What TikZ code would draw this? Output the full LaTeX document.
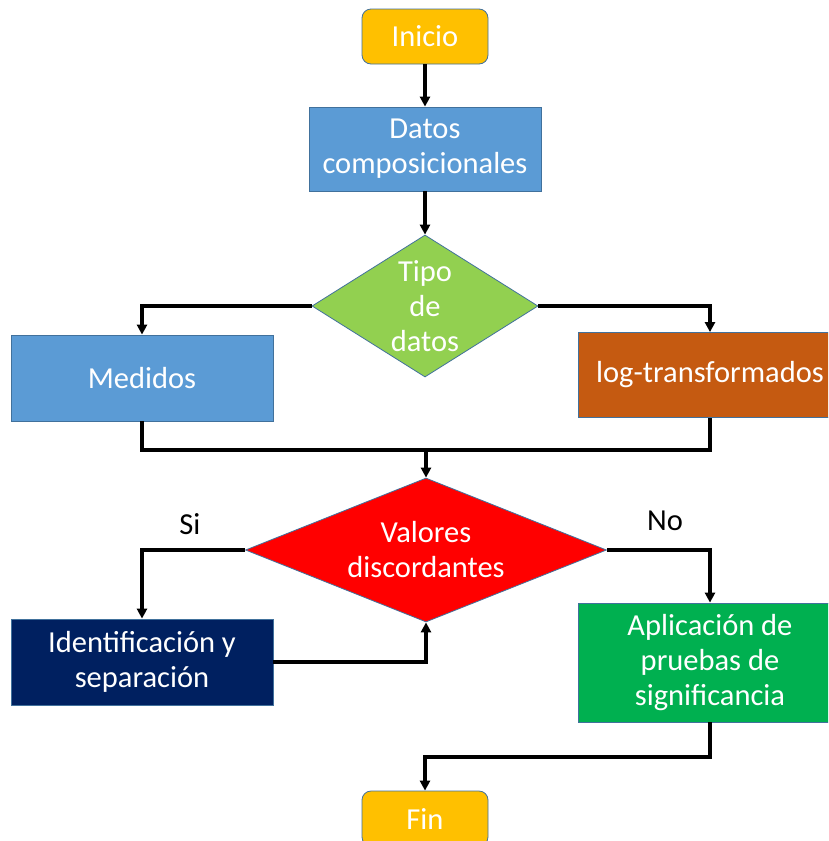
\documentclass[tikz,border=0pt]{standalone}
\usepackage{fontspec}
\setmainfont{Carlito}
\usetikzlibrary{arrows.meta,shapes.geometric}
\definecolor{gold}{HTML}{FFC000}
\definecolor{skyblue}{HTML}{5B9BD5}
\definecolor{rust}{HTML}{C55A11}
\definecolor{navy}{HTML}{002060}
\definecolor{leaf}{HTML}{92D050}
\definecolor{grass}{HTML}{00B050}
\definecolor{edge}{HTML}{41719C}
\tikzset{
  x=1pt, y=-1pt,
  every node/.style={font=\fontsize{30.5}{35}\selectfont, text=white, align=center},
  box/.style={draw=edge, line width=0.8pt, rectangle, inner sep=0pt},
  terminal/.style={box, fill=gold, rounded corners=9pt, minimum width=126pt, minimum height=55pt},
  decision/.style={draw=edge, line width=0.8pt, diamond, inner sep=0pt},
  flow/.style={line width=3.3pt, -{Triangle[length=10pt,width=10pt]}},
  link/.style={line width=3.3pt},
  answer/.style={text=black}
}
\begin{document}
\begin{tikzpicture}
\useasboundingbox (0,0) rectangle (828,841);
\clip (0,0) rectangle (828,841);
\fill[white] (0,0) rectangle (828,841);

% process boxes
\node[terminal] (inicio) at (425,36.5) {Inicio};
\node[box, fill=skyblue, minimum width=232pt, minimum height=84pt] (datos) at (425,149) {Datos\\composicionales};
\node[decision, fill=leaf, minimum width=226pt, minimum height=142pt, aspect=1.59,
      label={[text=white]center:Tipo\\de\\datos}] (tipo) at (425,306) {};
\node[box, fill=skyblue, minimum width=262pt, minimum height=86pt] (medidos) at (142,378) {Medidos};
\node[box, fill=rust, minimum width=264pt, minimum height=85pt] (log) at (710,375) {log-transformados};
\node[decision, fill=red, minimum width=361pt, minimum height=144pt, aspect=2.5,
      label={[text=white]center:Valores\\discordantes}] (valores) at (426,550) {};
\node[box, fill=navy, minimum width=262pt, minimum height=86pt] (ident) at (142,662) {Identificación y\\separación};
\node[box, fill=grass, minimum width=264pt, minimum height=119pt] (aplic) at (710,662.5) {Aplicación de\\pruebas de\\significancia};
\node[terminal] (fin) at (425,818.5) {Fin};

% branch labels
\node[answer] (si) at (190,524) {Si};
\node[answer] (no) at (665,521) {No};

% connectors
\coordinate (join) at (426,450);
\coordinate (turn) at (710,757);
\draw[flow] (inicio.south) -- (datos.north);
\draw[flow] (datos.south) -- (tipo.north);
\draw[flow] (tipo.west) -| (medidos.north);
\draw[flow] (tipo.east) -| (log.north);
\draw[link] (medidos.south) |- (join) -| (log.south);
\draw[flow] (join) -- (valores.north);
\draw[flow] (valores.west) -| (ident.north);
\draw[flow] (ident.east) -| (valores.south);
\draw[flow] (valores.east) -| (aplic.north);
\draw[flow] (aplic.south) -- (turn) -| (fin.north);
\end{tikzpicture}
\end{document}
